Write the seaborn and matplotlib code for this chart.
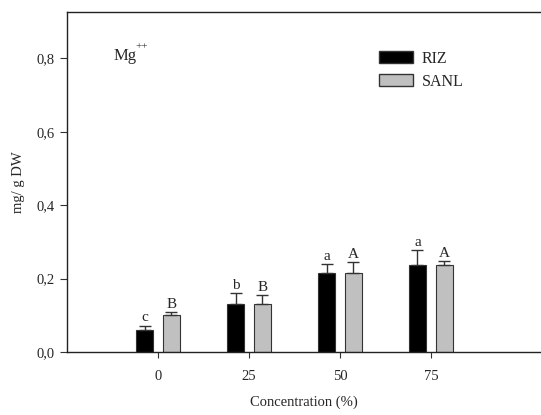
import matplotlib
matplotlib.use("Agg")
import matplotlib.pyplot as plt
import seaborn as sns
import pandas as pd
from matplotlib.patches import Patch

concentrations = ["0", "25", "50", "75"]
series = ["RIZ", "SANL"]
riz_values = [0.06, 0.13, 0.215, 0.238]
sanl_values = [0.10, 0.13, 0.215, 0.238]
riz_errors = [0.012, 0.03, 0.025, 0.04]
sanl_errors = [0.01, 0.025, 0.03, 0.01]
riz_letters = ["c", "b", "a", "a"]
sanl_letters = ["B", "B", "A", "A"]
y_ticks = [0.0, 0.2, 0.4, 0.6, 0.8]
y_tick_labels = ["0,0", "0,2", "0,4", "0,6", "0,8"]

sns.set_style("ticks")
plt.rcParams["font.family"] = ["Liberation Serif", "DejaVu Serif"]

df = pd.DataFrame({
    "conc": concentrations * 2,
    "series": [series[0]] * 4 + [series[1]] * 4,
    "value": riz_values + sanl_values,
})

fig = plt.figure(figsize=(5.41, 4.15), dpi=100)
ax = fig.add_axes([67 / 541, 63 / 415, 474 / 541, 340 / 415])

palette = {"RIZ": "#000000", "SANL": "#c0c0c0"}
sns.barplot(data=df, x="conc", y="value", hue="series", order=concentrations,
            hue_order=series, palette=palette, width=0.59, gap=0.36,
            errorbar=None, edgecolor="#333333", linewidth=0.8, ax=ax,
            legend=False, saturation=1)

errs = riz_errors + sanl_errors
letters = riz_letters + sanl_letters
bars = [p for p in ax.patches][:8]
for p, e, lab in zip(bars, errs, letters):
    cx = p.get_x() + p.get_width() / 2
    h = p.get_height()
    ax.errorbar(cx, h, yerr=[[0], [e]], fmt="none", ecolor="#333333",
                elinewidth=1, capsize=4, capthick=1)
    ax.text(cx, h + e + 0.003, lab, ha="center", va="bottom", fontsize=11)

ax.set_xlim(-1.0, 4.21)
ax.set_ylim(0, 0.926)
ax.set_yticks(y_ticks)
ax.set_yticklabels(y_tick_labels, fontsize=10.5)
ax.tick_params(axis="x", labelsize=10.5, length=4, pad=9, color="#333333")
ax.tick_params(axis="y", length=5, pad=4, color="#333333")
for s in ["left", "bottom", "top"]:
    ax.spines[s].set_visible(True)
    ax.spines[s].set_linewidth(1)
    ax.spines[s].set_color("#222222")
ax.spines["right"].set_visible(False)

ax.set_xlabel("Concentration (%)", fontsize=10.5, labelpad=9)
ax.set_ylabel("mg/ g DW", fontsize=10.5, labelpad=8)

ax.text(0.098, 0.86, "Mg", transform=ax.transAxes, fontsize=12,
        ha="left", va="baseline")
ax.text(0.145, 0.89, "++", transform=ax.transAxes, fontsize=8,
        ha="left", va="baseline")

handles = [Patch(facecolor="#000000", edgecolor="#333333", label="RIZ"),
           Patch(facecolor="#c0c0c0", edgecolor="#333333", label="SANL")]
ax.legend(handles=handles, loc="upper left", bbox_to_anchor=(0.645, 0.905),
          frameon=False, fontsize=11.5, handlelength=2.1, handleheight=0.75,
          handletextpad=0.55, labelspacing=0.45, borderaxespad=0)

fig.savefig("out.png", dpi=100)
